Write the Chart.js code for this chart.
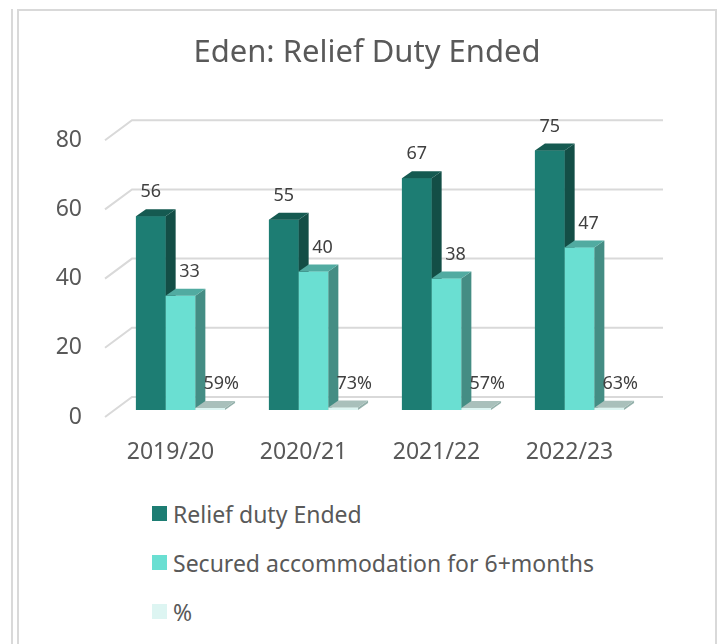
<!DOCTYPE html>
<html lang="en">
<head>
<meta charset="UTF-8" />
<title>Eden: Relief Duty Ended</title>
<script src="https://cdn.jsdelivr.net/npm/chart.js"></script>
<style>
    body {
        margin: 0;
        background: #fff;
        font-family: 'Noto Sans', sans-serif;
    }
    .side-line {
        position: absolute;
        left: 11px;
        top: 9px;
        width: 2px;
        height: 700px;
        background: #d9d9d9;
    }
    .box {
        position: absolute;
        left: 17px;
        top: 9px;
        width: 696px;
        height: 700px;
        border: 2px solid #d9d9d9;
        border-bottom: none;
    }
    .chart-wrap {
        position: relative;
        width: 696px;
        height: 470px;
    }
    #legend {
        list-style: none;
        margin: 0;
        padding: 0;
        position: absolute;
        left: 133px;
        top: 478px;
    }
    #legend li {
        display: flex;
        align-items: center;
        height: 49px;
        font-size: 23px;
        color: #595959;
    }
    #legend .swatch {
        width: 15px;
        height: 15px;
        margin-right: 6px;
    }
</style>
</head>
<body>
<div class="side-line"></div>
<div class="box">
    <div class="chart-wrap">
        <canvas id="chart"></canvas>
    </div>
    <ul id="legend"></ul>
</div>
<script>
    const years = ['2019/20', '2020/21', '2021/22', '2022/23'];
    const reliefEnded = [56, 55, 67, 75];
    const securedAccommodation = [33, 40, 38, 47];
    const securedShare = [0.59, 0.73, 0.57, 0.63];
    const yTicks = [0, 20, 40, 60, 80];

    // 3d look: side + top faces for each bar
    const DX = 10, DY = -7;
    const faces = [
        { front: '#1d7d73', side: '#134e46', top: '#155a51' },
        { front: '#6adfd2', side: '#448d84', top: '#51aba1' },
        { front: '#ddf5f2', side: '#93b0aa', top: '#a9c0bb' }
    ];
    const labelShift = [0, 9, 11];

    const bar3d = {
        id: 'bar3d',
        beforeDatasetsDraw(chart) {
            const { ctx, chartArea, scales } = chart;
            const y = scales.y;
            ctx.save();
            ctx.strokeStyle = '#d9d9d9';
            ctx.lineWidth = 2;
            y.ticks.forEach(t => {
                const py = y.getPixelForValue(t.value);
                ctx.beginPath();
                ctx.moveTo(chartArea.left - 9, py + 7);
                ctx.lineTo(chartArea.left + 18, py - 13);
                ctx.lineTo(chartArea.right + 17, py - 13);
                ctx.stroke();
            });
            ctx.restore();
        },
        afterDatasetsDraw(chart) {
            const ctx = chart.ctx;
            ctx.save();
            for (let i = 0; i < chart.data.labels.length; i++) {
                chart.data.datasets.forEach((ds, d) => {
                    const el = chart.getDatasetMeta(d).data[i];
                    const { x, y, base, width } = el.getProps(['x', 'y', 'base', 'width'], true);
                    const x0 = x - width / 2, x1 = x + width / 2;
                    const f = faces[d];
                    ctx.fillStyle = f.front;
                    ctx.fillRect(x0, y, width, base - y);
                    ctx.fillStyle = f.side;
                    ctx.beginPath();
                    ctx.moveTo(x1, y);
                    ctx.lineTo(x1 + DX, y + DY);
                    ctx.lineTo(x1 + DX, base + DY);
                    ctx.lineTo(x1, base);
                    ctx.closePath();
                    ctx.fill();
                    ctx.fillStyle = f.top;
                    ctx.beginPath();
                    ctx.moveTo(x0, y);
                    ctx.lineTo(x1, y);
                    ctx.lineTo(x1 + DX, y + DY);
                    ctx.lineTo(x0 + DX, y + DY);
                    ctx.closePath();
                    ctx.fill();
                });
            }
            // value labels
            ctx.fillStyle = '#404040';
            ctx.font = '18px "Noto Sans"';
            ctx.textAlign = 'center';
            ctx.textBaseline = 'middle';
            chart.data.datasets.forEach((ds, d) => {
                chart.getDatasetMeta(d).data.forEach((el, i) => {
                    const v = ds.data[i];
                    const txt = d === 2 ? Math.round(v * 100) + '%' : String(v);
                    ctx.fillText(txt, el.x + labelShift[d], el.y + DY - 17);
                });
            });
            ctx.restore();
        }
    };

    const htmlLegend = {
        id: 'htmlLegend',
        afterUpdate(chart) {
            const ul = document.getElementById('legend');
            ul.innerHTML = '';
            chart.options.plugins.legend.labels.generateLabels(chart).forEach(item => {
                const li = document.createElement('li');
                const box = document.createElement('span');
                box.className = 'swatch';
                box.style.background = item.fillStyle;
                li.appendChild(box);
                li.appendChild(document.createTextNode(item.text));
                ul.appendChild(li);
            });
        }
    };

    new Chart(document.getElementById('chart'), {
        type: 'bar',
        data: {
            labels: years,
            datasets: [
                { label: 'Relief duty Ended', data: reliefEnded, backgroundColor: faces[0].front },
                { label: 'Secured accommodation for 6+months', data: securedAccommodation, backgroundColor: faces[1].front },
                { label: '%', data: securedShare, backgroundColor: faces[2].front }
            ]
        },
        options: {
            responsive: true,
            maintainAspectRatio: false,
            animation: false,
            categoryPercentage: 0.67,
            barPercentage: 1,
            plugins: {
                legend: { display: false },
                tooltip: { enabled: false },
                title: {
                    display: true,
                    text: 'Eden: Relief Duty Ended',
                    color: '#595959',
                    font: { family: 'Noto Sans', size: 31, weight: 'normal' },
                    padding: { top: 24, bottom: 61 }
                }
            },
            scales: {
                x: {
                    grid: { display: false, drawTicks: false },
                    border: { display: false },
                    ticks: {
                        color: '#595959',
                        font: { family: 'Noto Sans', size: 23 },
                        padding: 29,
                        labelOffset: -10
                    },
                    afterFit(scale) { scale.height = 71; }
                },
                y: {
                    min: 0,
                    max: 80,
                    grid: { display: false, drawTicks: false },
                    border: { display: false },
                    afterBuildTicks(scale) {
                        scale.ticks = yTicks.map(v => ({ value: v }));
                    },
                    ticks: {
                        color: '#595959',
                        font: { family: 'Noto Sans', size: 23 },
                        padding: 32,
                        labelOffset: 7
                    },
                    afterFit(scale) { scale.width = 95; }
                },
                // empty right-hand gutter so the title stays centred on the whole box
                gutter: {
                    type: 'linear',
                    position: 'right',
                    grid: { display: false, drawTicks: false },
                    border: { display: false },
                    ticks: { display: false },
                    afterFit(scale) { scale.width = 69; }
                }
            }
        },
        plugins: [bar3d, htmlLegend]
    });
</script>
</body>
</html>
